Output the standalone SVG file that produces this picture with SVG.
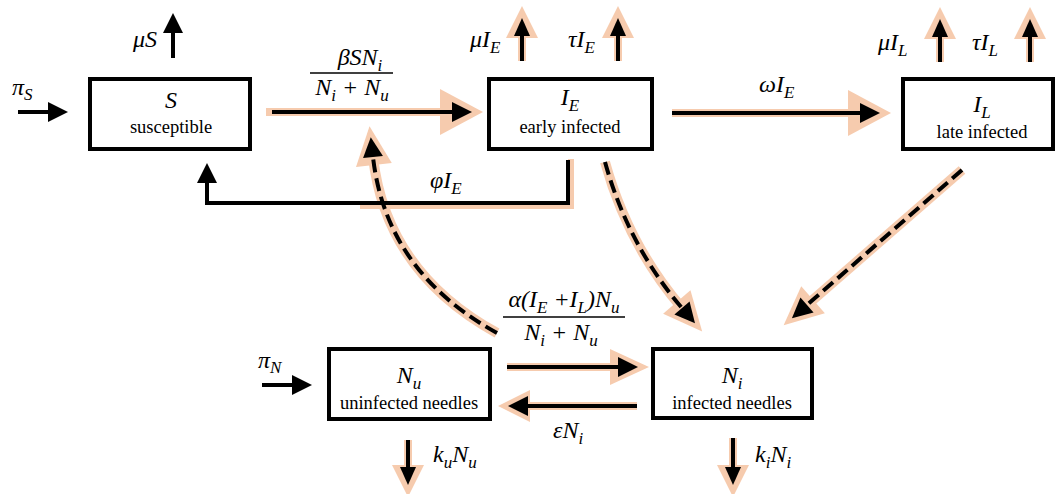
<svg xmlns="http://www.w3.org/2000/svg" width="1057" height="494" viewBox="0 0 1057 494">
<defs>
<style>
.box{fill:#fff;stroke:#000;stroke-width:4}
.m{font-family:'Liberation Serif','DejaVu Serif',serif;font-style:italic;font-size:24px;fill:#000}
.d{font-family:'Liberation Serif','DejaVu Serif',serif;font-size:18.5px;fill:#000}
.s{font-size:17px}
.ln{fill:none;stroke:#000;stroke-width:4}
.dash{stroke-dasharray:13 6}
.gl{fill:none;stroke:#F6CBAE;stroke-width:8}
.gd{stroke-width:10}
.fr{stroke:#000;stroke-width:1.3}
</style>
<marker id="bh" markerUnits="userSpaceOnUse" orient="auto" style="overflow:visible" markerWidth="1" markerHeight="1"><path d="M0,-10 L20,0 L0,10Z" fill="#000"/></marker>
<marker id="bhS" markerUnits="userSpaceOnUse" orient="auto" style="overflow:visible" markerWidth="1" markerHeight="1"><path d="M0,-8 L18,0 L0,8Z" fill="#000"/></marker>
<marker id="ohL" markerUnits="userSpaceOnUse" orient="auto" style="overflow:visible" markerWidth="1" markerHeight="1"><path d="M-12,-23 L31,0 L-12,23Z" fill="#F6CBAE"/></marker>
<marker id="ohM" markerUnits="userSpaceOnUse" orient="auto" style="overflow:visible" markerWidth="1" markerHeight="1"><path d="M-8,-18 L31,0 L-8,18Z" fill="#F6CBAE"/></marker>
<marker id="ohS" markerUnits="userSpaceOnUse" orient="auto" style="overflow:visible" markerWidth="1" markerHeight="1"><path d="M-2,-16 L30,0 L-2,16Z" fill="#F6CBAE"/></marker>
</defs>
<rect width="1057" height="494" fill="#fff"/>

<g id="connectors">
  <g id="glows">
    <path class="gl" d="M266,112 H452" marker-end="url(#ohL)"/>
    <path class="gl" d="M522,61 V36" marker-end="url(#ohS)"/>
    <path class="gl" d="M618,61 V36" marker-end="url(#ohS)"/>
    <path class="gl" d="M940,62 V37" marker-end="url(#ohS)"/>
    <path class="gl" d="M1030,62 V37" marker-end="url(#ohS)"/>
    <path class="gl" d="M672,113 H860" marker-end="url(#ohL)"/>
    <path class="gl" style="stroke-width:6" d="M571,159 V206 H360"/>
    <path class="gl gd" d="M497,333 Q386,272 373,157" marker-end="url(#ohM)"/>
    <path class="gl gd" d="M605,162 Q628,245 682,308" marker-end="url(#ohM)"/>
    <path class="gl gd" d="M962,170 L807,305" marker-end="url(#ohM)"/>
    <path class="gl" d="M507,367 H618" marker-end="url(#ohM)"/>
    <path class="gl" d="M637,406 H528" marker-end="url(#ohS)"/>
    <path class="gl" d="M408,440 V467" marker-end="url(#ohS)"/>
    <path class="gl" d="M733,438 V467" marker-end="url(#ohS)"/>
  </g>
  <g id="lines">
    <path class="ln" d="M18,112 H48" marker-end="url(#bh)"/>
    <path class="ln" d="M173,58 V33" marker-end="url(#bh)"/>
    <path class="ln" d="M272,112 H452" marker-end="url(#bh)"/>
    <path class="ln" d="M522,61 V36" marker-end="url(#bhS)"/>
    <path class="ln" d="M618,61 V36" marker-end="url(#bhS)"/>
    <path class="ln" d="M940,62 V37" marker-end="url(#bhS)"/>
    <path class="ln" d="M1030,62 V37" marker-end="url(#bhS)"/>
    <path class="ln" d="M672,113 H860" marker-end="url(#bh)"/>
    <path class="ln" d="M568,160 V203 H207 V183" marker-end="url(#bh)"/>
    <path class="ln dash" d="M497,333 Q386,272 373,157" marker-end="url(#bh)"/>
    <path class="ln dash" d="M605,162 Q628,245 682,308" marker-end="url(#bh)"/>
    <path class="ln dash" d="M962,170 L807,305" marker-end="url(#bh)"/>
    <path class="ln" d="M507,367 H618" marker-end="url(#bh)"/>
    <path class="ln" d="M637,406 H528" marker-end="url(#bh)"/>
    <path class="ln" d="M262,385 H292" marker-end="url(#bh)"/>
    <path class="ln" d="M408,440 V467" marker-end="url(#bhS)"/>
    <path class="ln" d="M733,438 V467" marker-end="url(#bhS)"/>
  </g>
  <g id="labels">
    <text class="m" x="12" y="95">π<tspan class="s" dy="5">S</tspan></text>
    <text class="m" x="133" y="47">μS</text>
    <text class="m" x="360" y="65" text-anchor="middle">βSN<tspan class="s" dy="6">i</tspan></text>
    <line class="fr" x1="310" y1="73" x2="393" y2="73"/>
    <text class="m" x="352" y="95" text-anchor="middle">N<tspan class="s" dy="6">i</tspan><tspan dy="-6"> + N</tspan><tspan class="s" dy="6">u</tspan></text>
    <text class="m" x="470" y="47">μI<tspan class="s" dy="6">E</tspan></text>
    <text class="m" x="568" y="47">τI<tspan class="s" dy="6">E</tspan></text>
    <text class="m" x="878" y="50">μI<tspan class="s" dy="6">L</tspan></text>
    <text class="m" x="972" y="50">τI<tspan class="s" dy="6">L</tspan></text>
    <text class="m" x="759" y="92">ωI<tspan class="s" dy="6">E</tspan></text>
    <text class="m" x="430" y="188">φI<tspan class="s" dy="6">E</tspan></text>
    <text class="m" x="564" y="307" text-anchor="middle">α(I<tspan class="s" dy="6">E</tspan><tspan dy="-6"> +I</tspan><tspan class="s" dy="6">L</tspan><tspan dy="-6">)N</tspan><tspan class="s" dy="6">u</tspan></text>
    <line class="fr" x1="503" y1="317" x2="625" y2="317"/>
    <text class="m" x="561" y="340" text-anchor="middle">N<tspan class="s" dy="6">i</tspan><tspan dy="-6"> + N</tspan><tspan class="s" dy="6">u</tspan></text>
    <text class="m" x="258" y="368">π<tspan class="s" dy="5">N</tspan></text>
    <text class="m" x="553" y="438">εN<tspan class="s" dy="6">i</tspan></text>
    <text class="m" x="433" y="462">k<tspan class="s" dy="6">u</tspan><tspan dy="-6">N</tspan><tspan class="s" dy="6">u</tspan></text>
    <text class="m" x="755" y="462">k<tspan class="s" dy="6">i</tspan><tspan dy="-6">N</tspan><tspan class="s" dy="6">i</tspan></text>
  </g>
</g>

<g id="node-S">
  <rect class="box" x="90" y="79" width="160" height="70"/>
  <text class="m" x="171" y="108" text-anchor="middle">S</text>
  <text class="d" x="171" y="133" text-anchor="middle">susceptible</text>
</g>
<g id="node-IE">
  <rect class="box" x="489" y="79" width="163" height="70"/>
  <text class="m" x="570" y="105" text-anchor="middle">I<tspan class="s" dy="6">E</tspan></text>
  <text class="d" x="570" y="133" text-anchor="middle">early infected</text>
</g>
<g id="node-IL">
  <rect class="box" x="903" y="79" width="150" height="70"/>
  <text class="m" x="982" y="112" text-anchor="middle">I<tspan class="s" dy="6">L</tspan></text>
  <text class="d" x="982" y="138" text-anchor="middle">late infected</text>
</g>
<g id="node-Nu">
  <rect class="box" x="329" y="349" width="161" height="70"/>
  <text class="m" x="409" y="383" text-anchor="middle">N<tspan class="s" dy="6">u</tspan></text>
  <text class="d" x="409" y="409" text-anchor="middle">uninfected needles</text>
</g>
<g id="node-Ni">
  <rect class="box" x="653" y="349" width="159" height="69"/>
  <text class="m" x="732" y="383" text-anchor="middle">N<tspan class="s" dy="6">i</tspan></text>
  <text class="d" x="732" y="409" text-anchor="middle">infected needles</text>
</g>
</svg>
